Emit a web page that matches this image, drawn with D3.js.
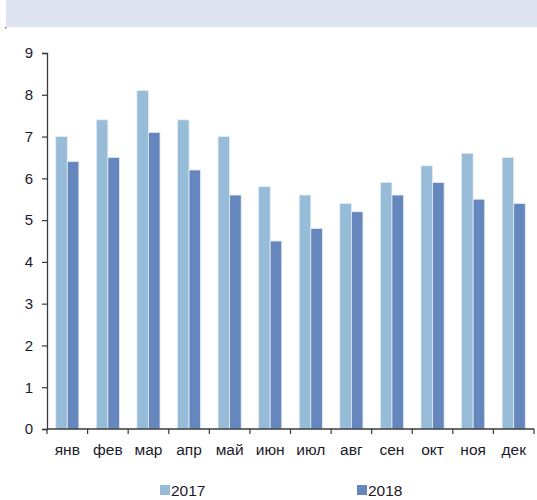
<!DOCTYPE html>
<html>
<head>
<meta charset="utf-8">
<script src="https://cdn.jsdelivr.net/npm/d3@7"></script>
<style>
  html, body { margin: 0; padding: 0; background: #fff; }
  svg { display: block; font-family: "Liberation Sans", Arial, sans-serif; }
</style>
</head>
<body>
<svg id="chart" width="537" height="500"></svg>
<script>
// Monthly values, two years
const months = ["янв", "фев", "мар", "апр", "май", "июн", "июл", "авг", "сен", "окт", "ноя", "дек"];
const seriesNames = ["2017", "2018"];
const values2017 = [7.0, 7.4, 8.1, 7.4, 7.0, 5.8, 5.6, 5.4, 5.9, 6.3, 6.6, 6.5];
const values2018 = [6.4, 6.5, 7.1, 6.2, 5.6, 4.5, 4.8, 5.2, 5.6, 5.9, 5.5, 5.4];
const yTicks = [0, 1, 2, 3, 4, 5, 6, 7, 8, 9];

const colors = { "2017": "#96bcd8", "2018": "#6687bd" };
const textColor = "#1a1a2c";
const axisColor = "#3a3a3a";

const svg = d3.select("#chart");

// Header band
svg.append("rect")
  .attr("x", 6).attr("y", 0)
  .attr("width", 531).attr("height", 27)
  .attr("fill", "#dfe5f0");
svg.append("rect")
  .attr("x", 5).attr("y", 27)
  .attr("width", 1.5).attr("height", 1.5)
  .attr("fill", "#777");

const plot = { left: 47, right: 534, top: 53, bottom: 429 };

const x = d3.scaleBand()
  .domain(months)
  .range([plot.left, plot.right])
  .paddingInner(0.43)
  .paddingOuter(0.215);

const bandStep = (plot.right - plot.left) / months.length;

const xSub = d3.scaleBand()
  .domain(seriesNames)
  .range([0, x.bandwidth()]);

const y = d3.scaleLinear()
  .domain([0, 9])
  .range([plot.bottom, plot.top]);

const rows = months.map((m, i) => ({ month: m, "2017": values2017[i], "2018": values2018[i] }));

// Bars
const groups = svg.append("g").selectAll("g")
  .data(rows)
  .join("g")
  .attr("transform", d => `translate(${x(d.month)},0)`);

groups.selectAll("rect")
  .data(d => seriesNames.map(s => ({ key: s, value: d[s] })))
  .join("rect")
  .attr("x", d => xSub(d.key))
  .attr("y", d => y(d.value))
  .attr("width", xSub.bandwidth())
  .attr("height", d => y(0) - y(d.value))
  .attr("fill", d => colors[d.key])
  .attr("stroke", "#e4ecf6")
  .attr("stroke-width", 0.8);

// Y axis
const yAxis = d3.axisLeft(y)
  .tickValues(yTicks)
  .tickSize(5)
  .tickPadding(9)
  .tickFormat(d3.format("d"));

const yg = svg.append("g")
  .attr("transform", `translate(${plot.left},0)`)
  .call(yAxis);
yg.select(".domain").attr("stroke", axisColor).attr("stroke-width", 1.3);
yg.selectAll(".tick line").attr("stroke", axisColor).attr("stroke-width", 1.2);
yg.selectAll(".tick text")
  .attr("fill", textColor)
  .style("font-size", "15px")
  .style("font-family", "'Liberation Sans', Arial, sans-serif");

// X axis: baseline with ticks at category boundaries
const xg = svg.append("g")
  .attr("transform", `translate(0,${plot.bottom})`);
xg.append("line")
  .attr("x1", plot.left).attr("x2", plot.right)
  .attr("y1", 0).attr("y2", 0)
  .attr("stroke", axisColor).attr("stroke-width", 1.3);
xg.selectAll("line.tk")
  .data(d3.range(months.length + 1))
  .join("line")
  .attr("class", "tk")
  .attr("x1", i => plot.left + i * bandStep)
  .attr("x2", i => plot.left + i * bandStep)
  .attr("y1", 0).attr("y2", 5)
  .attr("stroke", axisColor).attr("stroke-width", 1.2);
xg.selectAll("text")
  .data(months)
  .join("text")
  .attr("x", m => x(m) + x.bandwidth() / 2)
  .attr("y", 26)
  .attr("text-anchor", "middle")
  .attr("fill", textColor)
  .style("font-size", "15.5px")
  .text(m => m);

// Legend
const legendX = { "2017": 160, "2018": 357 };
const legend = svg.append("g").selectAll("g")
  .data(seriesNames)
  .join("g")
  .attr("transform", s => `translate(${legendX[s]},484)`);
legend.append("rect")
  .attr("x", 0).attr("y", 1)
  .attr("width", 10).attr("height", 10)
  .attr("fill", s => colors[s]);
legend.append("text")
  .attr("x", 11).attr("y", 11.5)
  .attr("fill", textColor)
  .style("font-size", "15.5px")
  .text(s => s);
</script>
</body>
</html>
